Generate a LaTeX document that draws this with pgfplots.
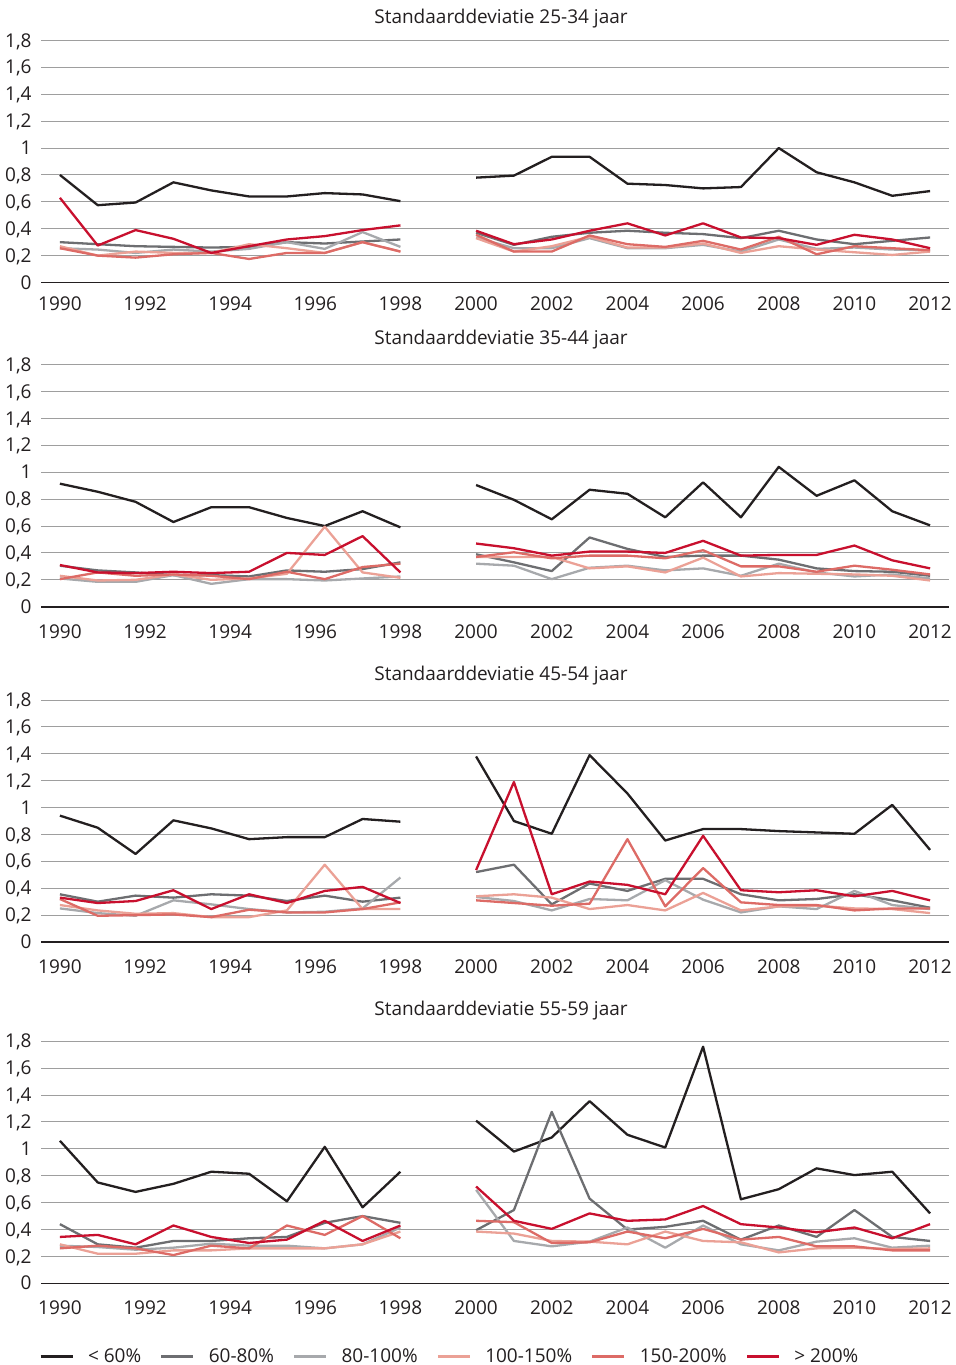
\documentclass[border=0pt]{standalone}
\usepackage{fontspec}
\setmainfont{Open Sans}
\usepackage{pgfplots}
\usepackage{pgfplotstable}
\pgfplotsset{compat=1.18}
\definecolor{cA}{HTML}{231F20}
\definecolor{cB}{HTML}{6D6E71}
\definecolor{cC}{HTML}{A7A9AC}
\definecolor{cD}{HTML}{EBA196}
\definecolor{cE}{HTML}{DD6B66}
\definecolor{cF}{HTML}{C8102E}
\definecolor{gridc}{HTML}{9E9E9E}
\newcommand{\fnt}{\fontsize{9.5pt}{11pt}\selectfont}

\pgfplotstableread{
x A B C D E F
0 0.80 0.30 0.255 0.27 0.255 0.63
1 0.575 0.285 0.245 0.20 0.20 0.275
2 0.595 0.27 0.22 0.23 0.185 0.39
3 0.745 0.265 0.245 0.22 0.21 0.325
4 0.685 0.26 0.23 0.22 0.22 0.22
5 0.64 0.265 0.25 0.285 0.175 0.27
6 0.64 0.30 0.30 0.255 0.22 0.32
7 0.665 0.29 0.25 0.22 0.22 0.345
8 0.655 0.305 0.375 0.30 0.30 0.39
9 0.605 0.32 0.265 0.23 0.23 0.425
10 nan nan nan nan nan nan
11 0.78 0.37 0.335 0.33 0.355 0.385
12 0.795 0.28 0.255 0.23 0.23 0.285
13 0.935 0.34 0.255 0.27 0.23 0.32
14 0.935 0.37 0.33 0.34 0.35 0.385
15 0.735 0.385 0.255 0.26 0.285 0.44
16 0.725 0.37 0.255 0.26 0.265 0.35
17 0.70 0.36 0.28 0.29 0.31 0.44
18 0.71 0.33 0.23 0.22 0.245 0.335
19 1.0 0.385 0.32 0.27 0.34 0.33
20 0.82 0.32 0.25 0.245 0.21 0.28
21 0.745 0.285 0.26 0.225 0.27 0.355
22 0.645 0.31 0.245 0.205 0.255 0.32
23 0.68 0.335 0.24 0.23 0.24 0.255
}\tabA

\pgfplotstableread{
x A B C D E F
0 0.915 0.305 0.21 0.23 0.205 0.31
1 0.855 0.27 0.185 0.195 0.255 0.255
2 0.78 0.255 0.185 0.20 0.23 0.25
3 0.63 0.235 0.235 0.24 0.24 0.26
4 0.74 0.235 0.17 0.20 0.23 0.25
5 0.74 0.225 0.205 0.21 0.205 0.26
6 0.66 0.27 0.205 0.245 0.26 0.40
7 0.60 0.26 0.195 0.595 0.205 0.385
8 0.71 0.28 0.21 0.255 0.295 0.525
9 0.59 0.33 0.225 0.215 0.32 0.255
10 nan nan nan nan nan nan
11 0.905 0.39 0.32 0.37 0.37 0.47
12 0.795 0.33 0.305 0.37 0.405 0.435
13 0.65 0.265 0.205 0.37 0.36 0.38
14 0.87 0.515 0.29 0.285 0.38 0.41
15 0.84 0.43 0.305 0.30 0.38 0.41
16 0.665 0.37 0.27 0.255 0.36 0.40
17 0.925 0.38 0.285 0.365 0.42 0.49
18 0.665 0.38 0.23 0.225 0.30 0.38
19 1.04 0.35 0.32 0.25 0.30 0.385
20 0.825 0.285 0.255 0.245 0.26 0.385
21 0.94 0.265 0.225 0.24 0.305 0.455
22 0.71 0.26 0.24 0.23 0.275 0.345
23 0.605 0.23 0.21 0.195 0.24 0.285
}\tabB

\pgfplotstableread{
x A B C D E F
0 0.94 0.355 0.25 0.275 0.32 0.33
1 0.85 0.30 0.215 0.235 0.195 0.29
2 0.655 0.345 0.195 0.21 0.20 0.305
3 0.905 0.33 0.31 0.215 0.205 0.385
4 0.845 0.355 0.28 0.185 0.185 0.245
5 0.765 0.345 0.245 0.185 0.24 0.355
6 0.78 0.305 0.22 0.235 0.22 0.29
7 0.78 0.345 0.225 0.575 0.22 0.38
8 0.915 0.30 0.25 0.245 0.245 0.41
9 0.895 0.33 0.48 0.245 0.295 0.29
10 nan nan nan nan nan nan
11 1.38 0.52 0.335 0.34 0.31 0.535
12 0.90 0.575 0.305 0.355 0.29 1.19
13 0.805 0.28 0.235 0.33 0.27 0.355
14 1.39 0.435 0.32 0.245 0.285 0.45
15 1.105 0.38 0.31 0.275 0.765 0.425
16 0.755 0.47 0.46 0.235 0.265 0.355
17 0.84 0.47 0.315 0.365 0.55 0.79
18 0.84 0.355 0.22 0.235 0.295 0.385
19 0.825 0.31 0.265 0.265 0.275 0.37
20 0.815 0.32 0.245 0.27 0.275 0.385
21 0.805 0.355 0.38 0.25 0.235 0.34
22 1.02 0.31 0.275 0.245 0.25 0.38
23 0.685 0.255 0.245 0.215 0.25 0.31
}\tabC

\pgfplotstableread{
x A B C D E F
0 1.06 0.44 0.28 0.29 0.26 0.345
1 0.75 0.29 0.27 0.22 0.28 0.36
2 0.68 0.265 0.25 0.22 0.26 0.29
3 0.74 0.315 0.265 0.245 0.21 0.43
4 0.83 0.315 0.295 0.245 0.28 0.345
5 0.815 0.335 0.28 0.26 0.26 0.30
6 0.61 0.345 0.28 0.26 0.43 0.325
7 1.015 0.45 0.26 0.26 0.36 0.465
8 0.565 0.50 0.29 0.29 0.50 0.315
9 0.83 0.45 0.415 0.385 0.335 0.43
10 nan nan nan nan nan nan
11 1.21 0.395 0.695 0.385 0.465 0.72
12 0.98 0.545 0.315 0.37 0.455 0.465
13 1.085 1.275 0.275 0.315 0.30 0.405
14 1.355 0.63 0.31 0.31 0.305 0.52
15 1.105 0.40 0.415 0.29 0.385 0.465
16 1.01 0.42 0.265 0.385 0.335 0.475
17 1.76 0.465 0.43 0.315 0.405 0.575
18 0.625 0.325 0.29 0.305 0.325 0.44
19 0.70 0.43 0.245 0.23 0.345 0.415
20 0.855 0.345 0.31 0.26 0.275 0.38
21 0.805 0.545 0.335 0.265 0.275 0.415
22 0.83 0.345 0.265 0.255 0.245 0.335
23 0.52 0.315 0.28 0.26 0.245 0.44
}\tabD

\pgfplotsset{
  panel/.style={
    scale only axis, width=454pt, height=121pt, anchor=south west,
    xmin=-0.5, xmax=23.5, ymin=0, ymax=1.8,
    separate axis lines,
    axis x line*=bottom, axis y line*=left,
    y axis line style={draw=none},
    x axis line style={draw=cA, line width=0.8pt},
    major tick length=0pt,
    ymajorgrids, grid style={gridc, line width=0.5pt},
    ytick={0,0.2,0.4,0.6,0.8,1,1.2,1.4,1.6,1.8},
    yticklabels={0,{0,2},{0,4},{0,6},{0,8},1,{1,2},{1,4},{1,6},{1,8}},
    xtick={0,2.25,4.5,6.75,9,11,13,15,17,19,21,23},
    xticklabels={1990,1992,1994,1996,1998,2000,2002,2004,2006,2008,2010,2012},
    tick label style={font=\fnt, text=cA, inner sep=0pt},
    yticklabel style={anchor=base east, xshift=-4.5pt, yshift=-3.3pt},
    title style={font=\fnt, text=cA, anchor=base, at={(axis description cs:0.5066,1)}, inner sep=0pt},
    unbounded coords=jump,
    every axis plot/.append style={line width=1.15pt, line join=round, no markers},
  },
}

\begin{document}
\begin{tikzpicture}
\path[use as bounding box] (0pt,0pt) rectangle (478pt,-682.5pt);

\begin{axis}[panel, at={(20.5pt,-141.25pt)},
  title={Standaarddeviatie 25-34 jaar}, title style={yshift=2.7pt},
  xticklabel style={anchor=base, yshift=-13.75pt}]
\addplot[cA] table[x=x,y=A]{\tabA};
\addplot[cB] table[x=x,y=B]{\tabA};
\addplot[cC] table[x=x,y=C]{\tabA};
\addplot[cD] table[x=x,y=D]{\tabA};
\addplot[cE] table[x=x,y=E]{\tabA};
\addplot[cF] table[x=x,y=F]{\tabA};
\end{axis}

\begin{axis}[panel, at={(20.5pt,-303.35pt)},
  title={Standaarddeviatie 35-44 jaar}, title style={yshift=4pt},
  xticklabel style={anchor=base, yshift=-15.75pt}]
\addplot[cA] table[x=x,y=A]{\tabB};
\addplot[cB] table[x=x,y=B]{\tabB};
\addplot[cC] table[x=x,y=C]{\tabB};
\addplot[cD] table[x=x,y=D]{\tabB};
\addplot[cE] table[x=x,y=E]{\tabB};
\addplot[cF] table[x=x,y=F]{\tabB};
\end{axis}

\begin{axis}[panel, at={(20.5pt,-471pt)},
  title={Standaarddeviatie 45-54 jaar}, title style={yshift=4pt},
  xticklabel style={anchor=base, yshift=-15.75pt}]
\addplot[cA] table[x=x,y=A]{\tabC};
\addplot[cB] table[x=x,y=B]{\tabC};
\addplot[cC] table[x=x,y=C]{\tabC};
\addplot[cD] table[x=x,y=D]{\tabC};
\addplot[cE] table[x=x,y=E]{\tabC};
\addplot[cF] table[x=x,y=F]{\tabC};
\end{axis}

\begin{axis}[panel, at={(20.5pt,-641.65pt)},
  title={Standaarddeviatie 55-59 jaar}, title style={yshift=7pt},
  xticklabel style={anchor=base, yshift=-15.75pt},
  legend columns=6,
  legend style={at={(axis description cs:-0.0022,-0.303)}, anchor=west,
    draw=none, fill=none, inner sep=0pt, font=\fnt, text=cA,
    nodes={inner sep=0pt},
    /tikz/every odd column/.append style={column sep=7pt},
    /tikz/every even column/.append style={column sep=9.5pt}},
  legend image code/.code={\draw[#1, line width=1.3pt] (0pt,0pt) -- (16pt,0pt);}]
\addplot[cA] table[x=x,y=A]{\tabD};
\addplot[cB] table[x=x,y=B]{\tabD};
\addplot[cC] table[x=x,y=C]{\tabD};
\addplot[cD] table[x=x,y=D]{\tabD};
\addplot[cE] table[x=x,y=E]{\tabD};
\addplot[cF] table[x=x,y=F]{\tabD};
\legend{{< 60\%},{60-80\%},{80-100\%},{100-150\%},{150-200\%},{> 200\%}}
\end{axis}
\end{tikzpicture}
\end{document}
